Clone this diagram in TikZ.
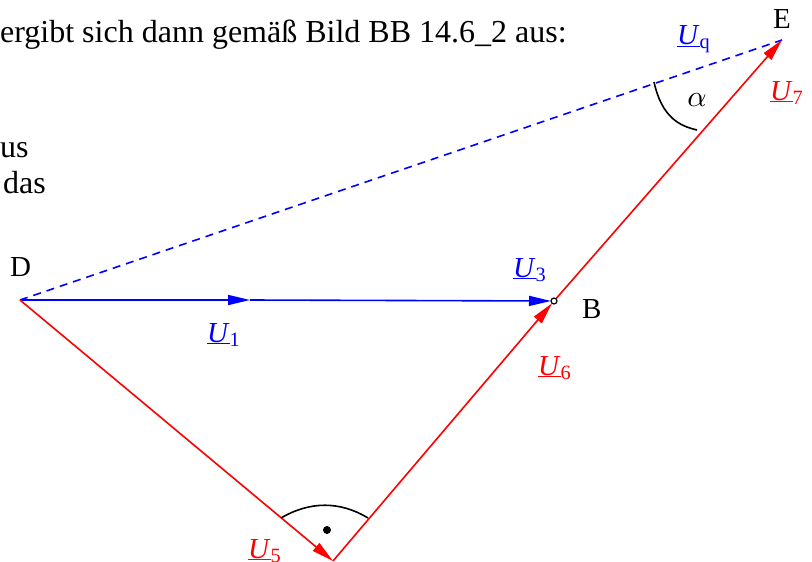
\documentclass[tikz,border=0pt]{standalone}
\usepackage{fontspec}
\setmainfont{Liberation Serif}
\usetikzlibrary{arrows.meta}
\newcommand\uvec[1]{\underline{\textit{U}}\textsubscript{#1}}
\tikzset{
  bluevec/.style={draw=blue, line width=1.6pt},
  redvec/.style={draw=red, line width=1.6pt},
  tip/.style={-{Triangle[length=22pt,width=10pt]}},
  lbl/.style={font=\fontsize{29}{34}\selectfont, inner sep=0pt, anchor=base west},
  body/.style={font=\fontsize{32}{38}\selectfont, inner sep=0pt, anchor=base west},
}
\begin{document}
\begin{tikzpicture}[x=1pt,y=-1pt]
\useasboundingbox (0,0) rectangle (812,562);
\coordinate (D) at (20,300);
\coordinate (M) at (250,300);
\coordinate (B) at (554,301);
\coordinate (E) at (782,40);
\coordinate (F) at (333,561);
% text
\node[body] (t1) at (0,42) {ergibt sich dann gemäß Bild BB 14.6\_2 aus:};
\node[body] (t2) at (0,157) {us};
\node[body] (t3) at (3,193) {das};
% vectors
\draw[bluevec, dashed, dash pattern=on 8pt off 6pt] (D) -- (E);
\draw[bluevec, tip] (D) -- (M);
\draw[bluevec, tip, shorten >=3pt] (M) -- (B);
\draw[redvec, tip] (D) -- (F);
\draw[redvec, tip, shorten >=3pt] (F) -- (B);
\draw[redvec, tip, shorten <=3pt] (B) -- (E);
\draw[black, line width=1.2pt, fill=white] (B) circle (3pt);
% angles
\draw[black, line width=1.6pt] (654,82) .. controls (662,118) and (680,126) .. (697,130);
\draw[black, line width=1.6pt] (281,518) .. controls (310,501) and (340,501) .. (368,518);
\fill[black] (327,530) circle (4pt);
% labels
\node[lbl] (lD) at (10,276) {D};
\node[lbl] (lB) at (582,318) {B};
\node[lbl] (lE) at (773,28) {E};
\node[lbl, text=blue] (lq) at (677,45) {\uvec{q}};
\node[lbl, text=red] (l7) at (770,100) {\uvec{7}};
\node[lbl, text=blue] (l1) at (207,342) {\uvec{1}};
\node[lbl, text=blue] (l3) at (513,277) {\uvec{3}};
\node[lbl, text=red] (l6) at (538,375) {\uvec{6}};
\node[lbl, text=red] (l5) at (248,558) {\uvec{5}};
\node[inner sep=0pt, scale=3] (la) at (697,100) {$\alpha$};
\end{tikzpicture}
\end{document}
